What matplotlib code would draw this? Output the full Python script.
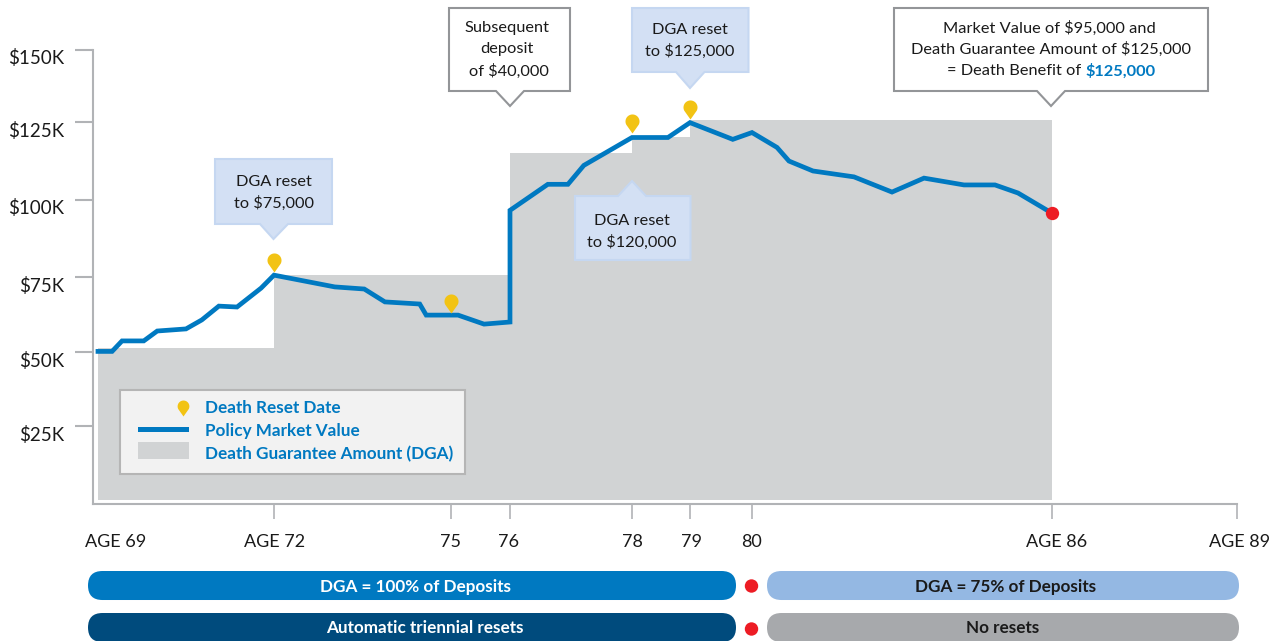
import matplotlib
matplotlib.use("Agg")
import matplotlib.pyplot as plt
import numpy as np
from matplotlib.patches import Polygon, Rectangle, FancyBboxPatch, Circle
from matplotlib.path import Path
from matplotlib.transforms import Affine2D, ScaledTranslation

plt.rcParams['font.family'] = ['Lato', 'DejaVu Sans']

W, H = 1280, 641

# the age axis and the dollar axis of the original are not quite even
age_knots = [60, 69, 72, 75, 76, 78, 79, 80, 86, 89, 95]
age_px = [-430, 98, 274, 451, 510, 632, 690, 752, 1052, 1237, 1600]
val_knots = [-20, 0, 25, 50, 75, 100, 125, 150, 170]
val_px = [559, 500, 426, 352, 277, 199.5, 122, 50, -10]

# policy market value
mv_age = [69, 69.24, 69.41, 69.78, 70.01, 70.50, 70.77, 71.06, 71.37, 71.78, 72,
          73.03, 73.53, 73.88, 74.47, 74.58, 75.12, 75.56, 76, 76,
          76.62, 76.95, 77.21, 78, 78.62, 79, 79.69, 80,
          80.5, 80.74, 81.22, 82.04, 82.8, 83.44, 84.24, 84.86, 85.32, 86]
mv_val = [50.2, 50.2, 53.7, 53.7, 57, 57.7, 60.7, 65.3, 65, 71.3, 75.6,
          71.7, 71, 66.7, 66, 62.3, 62.3, 59.3, 60, 96.5,
          104.9, 104.9, 111, 120, 120, 124.8, 119.4, 121.6,
          116.8, 112.4, 109.2, 107.3, 102.4, 106.9, 104.7, 104.7, 102.1, 95.6]

# death guarantee amount, steps
dga_age = [69, 72, 76, 78, 79, 86]
dga_val = [51.2, 75.6, 114.9, 120.2, 125.6, 125.6]

# reset dates
pin_age = [72, 75, 78, 79]
pin_val = [76.5, 63, 121.3, 125.9]

end_age = [86]
end_val = [95.6]

y_ticks = [25, 50, 75, 100, 125, 150]
y_labels = ['$25K', '$50K', '$75K', '$100K', '$125K', '$150K']
x_ticks = [69, 72, 75, 76, 78, 79, 80, 86, 89]
x_labels = ['AGE 69', 'AGE 72', '75', '76', '78', '79', '80', 'AGE 86', 'AGE 89']

BLUE = '#0079c1'
GREY = '#d1d3d4'
AXIS = '#b1b3b6'
INK = '#1a1a1a'
YELLOW = '#f2c314'
RED = '#ed1c24'
PALE = '#d3e0f4'
PALE_EDGE = '#c5d7f1'
BOX_EDGE = '#939598'
FS = 11.8
FS_BOLD = 12.3

fig = plt.figure(figsize=(W / 100, H / 100), dpi=100)
ax = fig.add_axes([93 / W, 1 - 504 / H, (1237 - 93) / W, (504 - 50) / H])
px = Affine2D().scale(1, -1).translate(0, H)  # original's pixel coords for the furniture


def pin_marker():
    t = np.linspace(-0.15 * np.pi, 1.15 * np.pi, 40)
    xs = 7 * np.cos(t)
    ys = 12 + 7 * np.sin(t)
    return Path(np.column_stack([np.r_[0, xs, 0], np.r_[0, ys, 0]]), closed=True)


ax.set_xscale('function', functions=(lambda a: np.interp(a, age_knots, age_px),
                                     lambda p: np.interp(p, age_px, age_knots)))
ax.set_yscale('function', functions=(lambda v: np.interp(v, val_knots, val_px) * -1,
                                     lambda p: np.interp(-np.asarray(p), val_px[::-1], val_knots[::-1])))
ax.set_xlim(68.915, 89)
ax.set_ylim(-1.35, 150)

ax.fill_between(dga_age, dga_val, 0, step='post', color=GREY, lw=0, zorder=1)
ax.plot(mv_age, mv_val, color=BLUE, lw=3.4, solid_joinstyle='miter', zorder=3)
ax.plot(pin_age, pin_val, ls='none', marker=pin_marker(), ms=27.4, color=YELLOW, mew=0, zorder=4, clip_on=False)
ax.plot(end_age, end_val, ls='none', marker='o', ms=9.6, color=RED, mew=0, zorder=5, clip_on=False)

for s in ['top', 'right']:
    ax.spines[s].set_visible(False)
for s in ['left', 'bottom']:
    ax.spines[s].set_color(AXIS)
    ax.spines[s].set_linewidth(1.5)

ax.set_yticks(y_ticks, y_labels)
ax.set_xticks(x_ticks, x_labels)
ax.minorticks_off()
ax.tick_params(axis='y', length=13, width=1.5, color=AXIS, pad=7.5, labelsize=13.5, labelcolor=INK)
ax.tick_params(axis='x', length=10.8, width=1.2, color=AXIS, pad=11, labelsize=13, labelcolor=INK)
ax.xaxis.get_major_ticks()[0].tick1line.set_visible(False)

# labels sit a little off their ticks in the original
for lab in ax.get_yticklabels():
    lab.set_transform(lab.get_transform() + ScaledTranslation(0, -7 / 100, fig.dpi_scale_trans))
for lab, dx in zip(ax.get_xticklabels(), [18, 1, 0, -1, 0, 2, 0, 5, 3]):
    lab.set_transform(lab.get_transform() + ScaledTranslation(dx / 100, 0, fig.dpi_scale_trans))


def callout(x0, x1, y0, y1, base0, base1, tip, fc, ec, up=False):
    if up:
        pts = [(x0, y0), (base0, y0), tip, (base1, y0), (x1, y0), (x1, y1), (x0, y1)]
    else:
        pts = [(x0, y0), (x1, y0), (x1, y1), (base1, y1), tip, (base0, y1), (x0, y1)]
    fig.add_artist(Polygon(pts, closed=True, fc=fc, ec=ec, lw=1.5, transform=px, joinstyle='miter', zorder=6))


def label(x, y, s, color=INK, size=FS, weight='normal', ha='center'):
    fig.text(x, y + 1, s, color=color, fontsize=size, fontweight=weight, ha=ha, va='center',
             transform=px, zorder=8)


callout(215, 332, 159, 224, 260, 288, (273.5, 239), PALE, PALE_EDGE)
label(273.5, 181, 'DGA reset')
label(273.5, 202, 'to $75,000')

callout(449, 570, 8, 91, 496, 524, (510, 106), 'white', BOX_EDGE)
label(507, 27, 'Subsequent')
label(507, 48, 'deposit')
label(509, 70, 'of $40,000')

callout(632, 748.5, 8, 72, 676, 704.5, (690, 88), PALE, PALE_EDGE)
label(690, 29, 'DGA reset')
label(690, 50, 'to $125,000')

callout(575, 690.5, 196, 260, 618, 646, (632, 181), PALE, PALE_EDGE, up=True)
label(632, 220, 'DGA reset')
label(632, 241, 'to $120,000')

callout(894, 1208, 8, 91, 1037, 1065, (1051, 106), 'white', BOX_EDGE)
label(1049, 27, 'Market Value of $95,000 and')
label(1051, 48, 'Death Guarantee Amount of $125,000')
label(1081, 70, '= Death Benefit of', ha='right')
label(1085, 70, '$125,000', color=BLUE, weight='bold', ha='left')

# legend panel
fig.add_artist(Rectangle((120, 390), 345, 84, fc='#f2f2f2', ec='#b5b5b5', lw=1.5, transform=px, zorder=6))
fig.add_artist(Rectangle((138, 427), 51, 5, fc=BLUE, ec='none', transform=px, zorder=7))
fig.add_artist(Rectangle((138, 442), 51, 17, fc=GREY, ec='none', transform=px, zorder=7))
legend_pin = ax.plot([183 / W], [1 - 416 / H], ls='none', marker=pin_marker(), ms=23, color=YELLOW, mew=0,
                     transform=fig.transFigure, clip_on=False)[0]
legend_pin.remove()
legend_pin.set_zorder(9)
fig.add_artist(legend_pin)
label(205, 407, 'Death Reset Date', color=BLUE, weight='bold', ha='left', size=FS_BOLD)
label(205, 430, 'Policy Market Value', color=BLUE, weight='bold', ha='left', size=FS_BOLD)
label(205, 453, 'Death Guarantee Amount (DGA)', color=BLUE, weight='bold', ha='left', size=FS_BOLD)


def pill(x0, x1, y0, y1, color):
    r = (y1 - y0) / 2
    fig.add_artist(FancyBboxPatch((x0 + r, y0 + r), x1 - x0 - 2 * r, 0.01,
                                  boxstyle=f'round,pad={r}', fc=color, ec='none', transform=px, zorder=6))


pill(88, 736, 571, 600, BLUE)
pill(767, 1239, 571, 600, '#94b8e3')
pill(88, 736, 613, 642, '#004b7d')
pill(767, 1239, 613, 642, '#a7a9ac')
for y in [586, 629]:
    fig.add_artist(Circle((751.5, y), 6.7, fc=RED, ec='none', transform=px, zorder=7))

label(416, 586, 'DGA = 100% of Deposits', color='white', weight='bold', size=FS_BOLD)
label(424.5, 627, 'Automatic triennial resets', color='white', weight='bold', size=FS_BOLD)
label(1006, 586, 'DGA = 75% of Deposits', color=INK, weight='bold', size=FS_BOLD)
label(1003, 627, 'No resets', color=INK, weight='bold', size=FS_BOLD)

fig.savefig('out.png', dpi=100)
